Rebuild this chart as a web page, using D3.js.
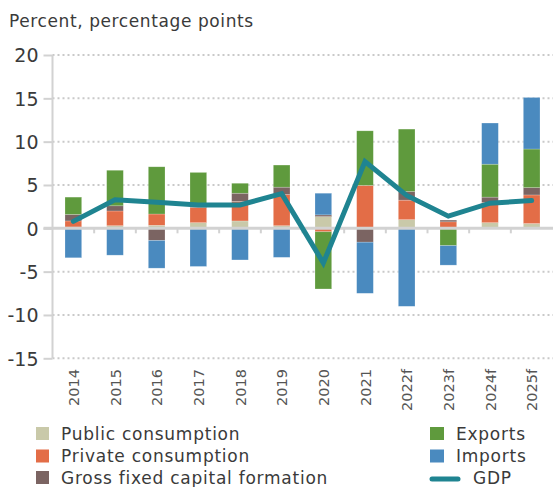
<!DOCTYPE html>
<html>
<head>
<meta charset="utf-8">
<script src="https://cdn.jsdelivr.net/npm/d3@7/dist/d3.min.js"></script>
<style>
  html, body { margin: 0; padding: 0; background: #ffffff; }
  svg { display: block; }
</style>
</head>
<body>
<div id="chart"></div>
<script>
// Chart data
const years = ['2014', '2015', '2016', '2017', '2018', '2019', '2020', '2021', '2022f', '2023f', '2024f', '2025f'];
const publicConsumption = [0.15, 0.3, 0.35, 0.65, 0.85, 0.3, 1.35, 0.05, 1.0, 0.1, 0.65, 0.55];
const privateConsumption = [0.7, 1.7, 1.3, 1.75, 2.25, 3.6, -0.4, 4.9, 2.25, 0.65, 2.35, 3.3];
const grossFixedCapital = [0.75, 0.6, -1.4, 0.1, 0.95, 0.85, 0.2, -1.6, 1.0, 0.2, 0.6, 0.85];
const exportsContrib = [2.0, 4.1, 5.45, 3.95, 1.15, 2.55, -6.6, 6.3, 7.2, -2.0, 3.8, 4.45];
const importsContrib = [-3.4, -3.1, -3.2, -4.4, -3.65, -3.35, 2.5, -5.9, -9.0, -2.25, 4.75, 5.95];
const gdp = [0.8, 3.3, 3.0, 2.7, 2.7, 4.0, -4.0, 7.7, 3.8, 1.4, 2.9, 3.2];
const yTicks = [-15, -10, -5, 0, 5, 10, 15, 20];

const seriesDefs = [
  { key: 'public', label: 'Public consumption', color: '#c9c9a9', values: publicConsumption },
  { key: 'private', label: 'Private consumption', color: '#e36d47', values: privateConsumption },
  { key: 'gfcf', label: 'Gross fixed capital formation', color: '#7b6462', values: grossFixedCapital },
  { key: 'exports', label: 'Exports', color: '#5f9a3d', values: exportsContrib },
  { key: 'imports', label: 'Imports', color: '#4a8abf', values: importsContrib },
];
const gdpColor = '#1f8491';

const width = 553;
const height = 487;
const fontFamily = '"DejaVu Sans", Verdana, sans-serif';
const textColor = '#3a3a3a';
const axisGrey = '#d2d2d2';

const plot = { left: 52.5, right: 552.5, top: 55, bottom: 358.3 };

const rows = years.map((year, i) => {
  const row = { year };
  seriesDefs.forEach((s) => { row[s.key] = s.values[i]; });
  return row;
});

const x = d3.scaleBand().domain(years).range([plot.left, plot.right]).paddingInner(0.6).paddingOuter(0.3);
const y = d3.scaleLinear().domain([-15, 20]).range([plot.bottom, plot.top]);

const stack = d3.stack()
  .keys(seriesDefs.map((s) => s.key))
  .offset(d3.stackOffsetDiverging);
const stacked = stack(rows);

const svg = d3.select('#chart')
  .append('svg')
  .attr('width', width)
  .attr('height', height)
  .attr('font-family', fontFamily);

/* Axis title */
svg.append('text')
  .attr('x', 9)
  .attr('y', 26.5)
  .attr('fill', textColor)
  .attr('font-size', 17)
  .attr('letter-spacing', 0.6)
  .text('Percent, percentage points');

/* Dotted grid */
svg.append('g')
  .selectAll('line')
  .data(yTicks.filter((t) => t !== 0))
  .join('line')
  .attr('x1', plot.left)
  .attr('x2', width)
  .attr('y1', (d) => y(d))
  .attr('y2', (d) => y(d))
  .attr('stroke', '#c9c9c9')
  .attr('stroke-width', 2)
  .attr('stroke-dasharray', '2,3');

/* Y axis */
const yAxis = svg.append('g')
  .attr('transform', `translate(${plot.left},0)`)
  .call(d3.axisLeft(y).tickValues(yTicks).tickSize(9).tickPadding(5).tickFormat((d) => String(d)));

yAxis.select('.domain').remove();
yAxis.selectAll('line').attr('stroke', axisGrey).attr('stroke-width', 2);
yAxis.selectAll('text')
  .attr('fill', textColor)
  .attr('font-size', 19)
  .attr('font-family', fontFamily)
  .attr('dy', '0.36em');

/* Bars */
const barGroups = svg.append('g')
  .selectAll('g')
  .data(stacked)
  .join('g')
  .attr('fill', (d) => seriesDefs.find((s) => s.key === d.key).color);

barGroups.selectAll('rect')
  .data((d) => d)
  .join('rect')
  .attr('x', (d) => x(d.data.year))
  .attr('width', x.bandwidth())
  .attr('y', (d) => y(Math.max(d[0], d[1])))
  .attr('height', (d) => Math.abs(y(d[0]) - y(d[1])))
  .attr('stroke', '#ffffff')
  .attr('stroke-opacity', 0.35)
  .attr('stroke-width', 0.6);

/* Vertical axis line */
svg.append('line')
  .attr('x1', plot.left)
  .attr('x2', plot.left)
  .attr('y1', plot.top)
  .attr('y2', plot.bottom)
  .attr('stroke', axisGrey)
  .attr('stroke-width', 2);

/* Zero line with category ticks */
svg.append('line')
  .attr('x1', plot.left - 9)
  .attr('x2', width)
  .attr('y1', y(0))
  .attr('y2', y(0))
  .attr('stroke', axisGrey)
  .attr('stroke-width', 3);

svg.append('g')
  .selectAll('line')
  .data(years.slice(1))
  .join('line')
  .attr('x1', (d) => x(d) - x.step() * x.paddingInner() / 2)
  .attr('x2', (d) => x(d) - x.step() * x.paddingInner() / 2)
  .attr('y1', y(0))
  .attr('y2', y(0) + 5)
  .attr('stroke', axisGrey)
  .attr('stroke-width', 2);

/* X labels */
svg.append('g')
  .selectAll('text')
  .data(years)
  .join('text')
  .attr('transform', (d) => `translate(${x(d) + x.bandwidth() / 2 + 0.5},369) rotate(-90)`)
  .attr('text-anchor', 'end')
  .attr('dy', '0.36em')
  .attr('fill', '#555555')
  .attr('font-size', 14.5)
  .text((d) => d);

/* GDP line */
const gdpLine = d3.line()
  .x((d, i) => x(years[i]) + x.bandwidth() / 2)
  .y((d) => y(d));

svg.append('path')
  .datum(gdp)
  .attr('fill', 'none')
  .attr('stroke', gdpColor)
  .attr('stroke-width', 5)
  .attr('stroke-linejoin', 'miter')
  .attr('stroke-linecap', 'round')
  .attr('d', gdpLine);

/* Legend */
const legendLeft = seriesDefs.slice(0, 3);
const legendRight = seriesDefs.slice(3);
const rowTops = [427, 449.5, 471];

const legend = svg.append('g')
  .attr('font-size', 17)
  .attr('letter-spacing', 0.75)
  .attr('fill', textColor);

legendLeft.forEach((s, i) => {
  const g = legend.append('g').attr('transform', `translate(36,${rowTops[i]})`);
  g.append('rect').attr('width', 13).attr('height', 13).attr('fill', s.color);
  g.append('text').attr('x', 25).attr('y', 12.5).text(s.label);
});

legendRight.forEach((s, i) => {
  const g = legend.append('g').attr('transform', `translate(430,${rowTops[i]})`);
  g.append('rect').attr('width', 14).attr('height', 13).attr('fill', s.color);
  g.append('text').attr('x', 26).attr('y', 12.5).text(s.label);
});

const gdpLegend = legend.append('g').attr('transform', `translate(430,${rowTops[2]})`);
gdpLegend.append('line')
  .attr('x1', 2).attr('x2', 28)
  .attr('y1', 8).attr('y2', 8)
  .attr('stroke', gdpColor)
  .attr('stroke-width', 5)
  .attr('stroke-linecap', 'round');
gdpLegend.append('text').attr('x', 43).attr('y', 12.5).text('GDP');
</script>
</body>
</html>
